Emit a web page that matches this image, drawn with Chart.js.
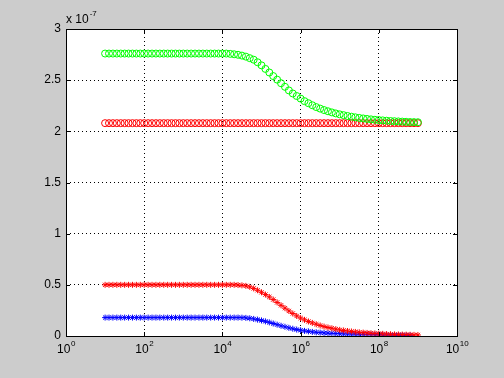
<!DOCTYPE html>
<html>
<head>
<meta charset="utf-8">
<script src="https://cdn.jsdelivr.net/npm/chart.js@4"></script>
<style>
  body { margin: 0; background: #cccccc; }
  #wrap { width: 504px; height: 378px; }
</style>
</head>
<body>
<div id="wrap"><canvas id="plot" width="504" height="378"></canvas></div>
<script>
// valori in unità di 1e-7, x come esponente di 10
const logX = [
  1.0, 1.1, 1.2, 1.3, 1.4, 1.5, 1.6, 1.7, 1.8, 1.9,
  2.0, 2.1, 2.2, 2.3, 2.4, 2.5, 2.6, 2.7, 2.8, 2.9,
  3.0, 3.1, 3.2, 3.3, 3.4, 3.5, 3.6, 3.7, 3.8, 3.9,
  4.0, 4.1, 4.2, 4.3, 4.4, 4.5, 4.6, 4.7, 4.8, 4.9,
  5.0, 5.1, 5.2, 5.3, 5.4, 5.5, 5.6, 5.7, 5.8, 5.9,
  6.0, 6.1, 6.2, 6.3, 6.4, 6.5, 6.6, 6.7, 6.8, 6.9,
  7.0, 7.1, 7.2, 7.3, 7.4, 7.5, 7.6, 7.7, 7.8, 7.9,
  8.0, 8.1, 8.2, 8.3, 8.4, 8.5, 8.6, 8.7, 8.8, 8.9,
  9.0
];

const greenCircles = [
  2.76, 2.76, 2.76, 2.76, 2.76, 2.76, 2.76, 2.76, 2.76, 2.76,
  2.76, 2.76, 2.76, 2.76, 2.76, 2.76, 2.76, 2.76, 2.76, 2.76,
  2.76, 2.76, 2.76, 2.76, 2.76, 2.76, 2.76, 2.76, 2.76, 2.76,
  2.76, 2.76, 2.757, 2.753, 2.748, 2.74, 2.73, 2.715, 2.70, 2.675,
  2.645, 2.61, 2.575, 2.54, 2.505, 2.47, 2.435, 2.40, 2.37, 2.345,
  2.32, 2.295, 2.275, 2.255, 2.237, 2.222, 2.208, 2.196, 2.185, 2.175,
  2.166, 2.158, 2.15, 2.143, 2.137, 2.131, 2.126, 2.121, 2.117, 2.113,
  2.11, 2.107, 2.104, 2.101, 2.099, 2.097, 2.095, 2.093, 2.091, 2.09,
  2.089
];

const redCircles = [
  2.08, 2.08, 2.08, 2.08, 2.08, 2.08, 2.08, 2.08, 2.08, 2.08,
  2.08, 2.08, 2.08, 2.08, 2.08, 2.08, 2.08, 2.08, 2.08, 2.08,
  2.08, 2.08, 2.08, 2.08, 2.08, 2.08, 2.08, 2.08, 2.08, 2.08,
  2.08, 2.08, 2.08, 2.08, 2.08, 2.08, 2.08, 2.08, 2.08, 2.08,
  2.08, 2.08, 2.08, 2.08, 2.08, 2.08, 2.08, 2.08, 2.08, 2.08,
  2.08, 2.08, 2.08, 2.08, 2.08, 2.08, 2.08, 2.08, 2.08, 2.08,
  2.08, 2.08, 2.08, 2.08, 2.08, 2.08, 2.08, 2.08, 2.08, 2.08,
  2.08, 2.08, 2.08, 2.08, 2.08, 2.08, 2.08, 2.08, 2.08, 2.08,
  2.08
];

const redStars = [
  0.5, 0.5, 0.5, 0.5, 0.5, 0.5, 0.5, 0.5, 0.5, 0.5,
  0.5, 0.5, 0.5, 0.5, 0.5, 0.5, 0.5, 0.5, 0.5, 0.5,
  0.5, 0.5, 0.5, 0.5, 0.5, 0.5, 0.5, 0.5, 0.5, 0.5,
  0.5, 0.5, 0.5, 0.5, 0.498, 0.495, 0.49, 0.48, 0.465, 0.447,
  0.427, 0.405, 0.382, 0.356, 0.328, 0.3, 0.272, 0.245, 0.22, 0.196,
  0.175, 0.158, 0.142, 0.128, 0.115, 0.103, 0.092, 0.083, 0.075, 0.067,
  0.06, 0.054, 0.049, 0.044, 0.04, 0.036, 0.033, 0.03, 0.027, 0.025,
  0.023, 0.021, 0.019, 0.017, 0.016, 0.015, 0.014, 0.013, 0.012, 0.011,
  0.01
];

const blueStars = [
  0.18, 0.18, 0.18, 0.18, 0.18, 0.18, 0.18, 0.18, 0.18, 0.18,
  0.18, 0.18, 0.18, 0.18, 0.18, 0.18, 0.18, 0.18, 0.18, 0.18,
  0.18, 0.18, 0.18, 0.18, 0.18, 0.18, 0.18, 0.18, 0.18, 0.18,
  0.18, 0.18, 0.18, 0.18, 0.18, 0.179, 0.177, 0.173, 0.167, 0.16,
  0.152, 0.143, 0.133, 0.122, 0.111, 0.1, 0.09, 0.08, 0.071, 0.063,
  0.056, 0.05, 0.045, 0.04, 0.036, 0.033, 0.03, 0.028, 0.026, 0.024,
  0.022, 0.021, 0.02, 0.019, 0.018, 0.017, 0.016, 0.015, 0.014, 0.013,
  0.012, 0.011, 0.01, 0.009, 0.008, 0.007, 0.007, 0.006, 0.006
];

const xTickExp = [0, 2, 4, 6, 8, 10];
const yTickLabels = ['0', '0.5', '1', '1.5', '2', '2.5', '3'];

const toPoints = vals => vals.map((v, i) => ({ x: Math.pow(10, logX[i]), y: v }));

function serie(vals, color, style, r) {
  return {
    data: toPoints(vals),
    showLine: false,
    pointStyle: style,
    pointRadius: r,
    pointHoverRadius: r,
    borderColor: color,
    backgroundColor: 'rgba(0,0,0,0)',
    pointBorderWidth: 1
  };
}

// cornice, tacche ed etichette in stile MATLAB
const frameLabels = {
  id: 'frameLabels',
  afterDraw(chart) {
    const ctx = chart.ctx;
    const a = chart.chartArea;
    const xs = chart.scales.x, ys = chart.scales.y;
    ctx.save();
    ctx.strokeStyle = '#000';
    ctx.lineWidth = 1;
    ctx.strokeRect(Math.round(a.left) + 0.5, Math.round(a.top) + 0.5,
      Math.round(a.right - a.left), Math.round(a.bottom - a.top));

    // tacche
    ctx.beginPath();
    xTickExp.forEach(e => {
      const px = Math.round(xs.getPixelForValue(Math.pow(10, e))) + 0.5;
      ctx.moveTo(px, a.bottom); ctx.lineTo(px, a.bottom - 4);
      ctx.moveTo(px, a.top); ctx.lineTo(px, a.top + 4);
    });
    yTickLabels.forEach(t => {
      const py = Math.round(ys.getPixelForValue(parseFloat(t))) + 0.5;
      ctx.moveTo(a.left, py); ctx.lineTo(a.left + 4, py);
      ctx.moveTo(a.right, py); ctx.lineTo(a.right - 4, py);
    });
    ctx.stroke();

    ctx.fillStyle = '#000';
    // etichette asse y
    ctx.font = '12px "Liberation Sans", Arial, sans-serif';
    ctx.textAlign = 'right';
    ctx.textBaseline = 'middle';
    yTickLabels.forEach(t => {
      ctx.fillText(t, a.left - 5, ys.getPixelForValue(parseFloat(t)));
    });

    // etichette asse x: 10^n
    xTickExp.forEach(e => {
      const px = xs.getPixelForValue(Math.pow(10, e));
      ctx.font = '12px "Liberation Sans", Arial, sans-serif';
      ctx.textAlign = 'left';
      ctx.textBaseline = 'alphabetic';
      const w = ctx.measureText('10').width;
      ctx.font = '8px "Liberation Sans", Arial, sans-serif';
      const we = ctx.measureText(String(e)).width;
      const x0 = px - (w + we) / 2;
      ctx.font = '12px "Liberation Sans", Arial, sans-serif';
      ctx.fillText('10', x0, a.bottom + 17);
      ctx.font = '8px "Liberation Sans", Arial, sans-serif';
      ctx.fillText(String(e), x0 + w + 0.5, a.bottom + 10);
    });

    // moltiplicatore
    ctx.font = '12px "Liberation Sans", Arial, sans-serif';
    ctx.fillText('x 10', a.left, a.top - 6);
    const wm = ctx.measureText('x 10').width;
    ctx.font = '8px "Liberation Sans", Arial, sans-serif';
    ctx.fillText('-7', a.left + wm + 1, a.top - 13);
    ctx.restore();
  }
};

const plotBg = {
  id: 'plotBg',
  beforeDraw(chart) {
    const ctx = chart.ctx, a = chart.chartArea;
    ctx.save();
    ctx.fillStyle = '#cccccc';
    ctx.fillRect(0, 0, chart.width, chart.height);
    ctx.fillStyle = '#ffffff';
    ctx.fillRect(a.left, a.top, a.right - a.left, a.bottom - a.top);
    ctx.restore();
  }
};

new Chart(document.getElementById('plot'), {
  type: 'scatter',
  data: {
    datasets: [
      serie(greenCircles, '#00ff00', 'circle', 3.5),
      serie(redCircles, '#ff0000', 'circle', 3.5),
      serie(redStars, '#ff0000', 'star', 3),
      serie(blueStars, '#0000ff', 'star', 3)
    ]
  },
  options: {
    responsive: false,
    animation: false,
    layout: { padding: { left: 66, top: 29, right: 47, bottom: 42 } },
    plugins: { legend: { display: false }, tooltip: { enabled: false } },
    scales: {
      x: {
        type: 'logarithmic',
        min: 1,
        max: 1e10,
        afterBuildTicks: axis => {
          axis.ticks = xTickExp.map(e => ({ value: Math.pow(10, e) }));
        },
        ticks: { display: false },
        border: { display: false },
        grid: { color: '#000', lineWidth: 1, drawTicks: false, tickBorderDash: [1, 3] },
        border: { display: false, dash: [1, 3] }
      },
      y: {
        min: 0,
        max: 3,
        ticks: { display: false, stepSize: 0.5 },
        grid: { color: '#000', lineWidth: 1, drawTicks: false },
        border: { display: false, dash: [1, 3] }
      }
    }
  },
  plugins: [plotBg, frameLabels]
});
</script>
</body>
</html>
